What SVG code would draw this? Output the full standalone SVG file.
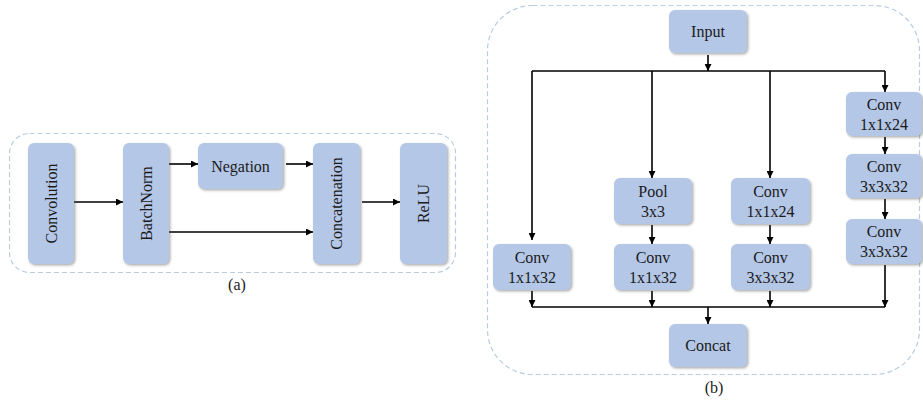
<svg xmlns="http://www.w3.org/2000/svg" width="923" height="400" viewBox="0 0 923 400">
<style>
.box{fill:#b4c7e7;filter:url(#sh)}
.t{font-family:"Liberation Serif","Times New Roman",serif;font-size:16px;fill:#1a1a1a;text-anchor:middle}
.cap{font-family:"Liberation Serif","Times New Roman",serif;font-size:16px;fill:#1a1a1a;text-anchor:middle}
.ln{stroke:#000;stroke-width:1.6;fill:none}
.ar{stroke:#000;stroke-width:1.6;fill:none;marker-end:url(#ah)}
.cont{fill:none;stroke:#b9cde0;stroke-width:1.2;stroke-dasharray:5 3}
</style>
<defs>
<filter id="sh" x="-20%" y="-20%" width="140%" height="140%">
<feDropShadow dx="1.5" dy="1.5" stdDeviation="1" flood-color="#555" flood-opacity="0.45"/>
</filter>
<marker id="ah" viewBox="0 0 10 10" refX="10" refY="5" markerWidth="7" markerHeight="7" markerUnits="userSpaceOnUse" orient="auto">
<path d="M0,0 L10,5 L0,10 z" fill="#000"/>
</marker>
</defs>
<rect width="923" height="400" fill="#fff"/>
<!-- containers -->
<rect class="cont" x="9.5" y="133.5" width="446" height="139" rx="20"/>
<rect class="cont" x="487.5" y="5.5" width="432" height="369" rx="45"/>
<text class="cap" x="237" y="290">(a)</text>
<text class="cap" x="714" y="393">(b)</text>
<g id="connectors">
<line class="ar" x1="74" y1="202" x2="123" y2="202"/>
<line class="ar" x1="169" y1="164" x2="198" y2="164"/>
<line class="ar" x1="286" y1="164" x2="313" y2="164"/>
<line class="ar" x1="169" y1="232" x2="313" y2="232"/>
<line class="ar" x1="362" y1="202" x2="400" y2="202"/>
<line class="ar" x1="708" y1="55" x2="708" y2="71"/>
<line class="ln" x1="532" y1="71" x2="885" y2="71"/>
<line class="ar" x1="532" y1="71" x2="532" y2="240"/>
<line class="ar" x1="652" y1="71" x2="652" y2="178"/>
<line class="ar" x1="770" y1="71" x2="770" y2="178"/>
<line class="ar" x1="885" y1="71" x2="885" y2="92"/>
<line class="ar" x1="885" y1="137" x2="885" y2="154"/>
<line class="ar" x1="885" y1="199" x2="885" y2="219"/>
<line class="ar" x1="652" y1="225" x2="652" y2="244"/>
<line class="ar" x1="770" y1="225" x2="770" y2="244"/>
<line class="ar" x1="532" y1="291" x2="532" y2="307"/>
<line class="ar" x1="652" y1="291" x2="652" y2="307"/>
<line class="ar" x1="770" y1="291" x2="770" y2="307"/>
<line class="ar" x1="885" y1="265" x2="885" y2="307"/>
<line class="ln" x1="532" y1="307" x2="885" y2="307"/>
<line class="ar" x1="708" y1="307" x2="708" y2="324"/>
</g>
<g id="convolution"><rect class="box" x="28" y="143" width="46" height="121" rx="6"/><text class="t" transform="translate(56.5,203.5) rotate(-90)">Convolution</text></g>
<g id="batchnorm"><rect class="box" x="123" y="143" width="46" height="121" rx="6"/><text class="t" transform="translate(151.5,203.5) rotate(-90)">BatchNorm</text></g>
<g id="negation"><rect class="box" x="198" y="143" width="85" height="46" rx="6"/><text class="t" x="240.5" y="171.5">Negation</text></g>
<g id="concatenation"><rect class="box" x="313" y="143" width="47" height="121" rx="6"/><text class="t" transform="translate(342,203.5) rotate(-90)">Concatenation</text></g>
<g id="relu"><rect class="box" x="400" y="143" width="47" height="121" rx="6"/><text class="t" transform="translate(429,203.5) rotate(-90)">ReLU</text></g>
<g id="input"><rect class="box" x="669" y="10" width="78" height="43" rx="6"/><text class="t" x="708" y="37">Input</text></g>
<g id="b1conv"><rect class="box" x="493" y="244" width="78" height="46" rx="6"/><text class="t" x="532" y="263">Conv</text><text class="t" x="532" y="283">1x1x32</text></g>
<g id="pool"><rect class="box" x="614" y="178" width="78" height="46" rx="6"/><text class="t" x="653" y="197">Pool</text><text class="t" x="653" y="217">3x3</text></g>
<g id="b2conv"><rect class="box" x="614" y="244" width="78" height="46" rx="6"/><text class="t" x="653" y="263">Conv</text><text class="t" x="653" y="283">1x1x32</text></g>
<g id="b3conv1"><rect class="box" x="731" y="178" width="79" height="46" rx="6"/><text class="t" x="770.5" y="197">Conv</text><text class="t" x="770.5" y="217">1x1x24</text></g>
<g id="b3conv2"><rect class="box" x="731" y="244" width="79" height="46" rx="6"/><text class="t" x="770.5" y="263">Conv</text><text class="t" x="770.5" y="283">3x3x32</text></g>
<g id="b4conv1"><rect class="box" x="846" y="92" width="76" height="44" rx="6"/><text class="t" x="884" y="110">Conv</text><text class="t" x="884" y="130">1x1x24</text></g>
<g id="b4conv2"><rect class="box" x="846" y="154" width="76" height="44" rx="6"/><text class="t" x="884" y="172">Conv</text><text class="t" x="884" y="192">3x3x32</text></g>
<g id="b4conv3"><rect class="box" x="846" y="219" width="76" height="45" rx="6"/><text class="t" x="884" y="237">Conv</text><text class="t" x="884" y="257">3x3x32</text></g>
<g id="concat"><rect class="box" x="669" y="324" width="78" height="43" rx="6"/><text class="t" x="708" y="351">Concat</text></g>
</svg>
